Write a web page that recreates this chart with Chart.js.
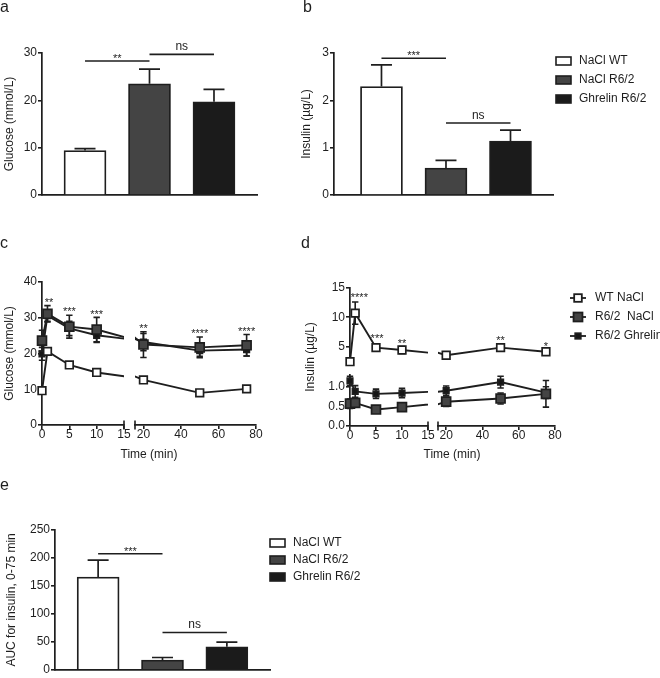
<!DOCTYPE html>
<html><head><meta charset="utf-8">
<script src="https://cdn.jsdelivr.net/npm/chart.js@4.4.1/dist/chart.umd.min.js"></script>
<style>
html,body{margin:0;padding:0;background:#fff;}
#fig{position:relative;width:660px;height:678px;overflow:hidden;background:#fff;}
#fig canvas{position:absolute;left:0;top:0;}
</style></head>
<body><div id="fig"></div>
<script>
// ---------------- data ----------------
const barGroups = ['NaCl WT', 'NaCl R6/2', 'Ghrelin R6/2'];
const glucoseMean = [9.4, 23.5, 19.7];
const glucoseSem = [0.4, 3.1, 2.6];
const insulinMean = [2.29, 0.57, 1.14];
const insulinSem = [0.46, 0.16, 0.23];
const aucMean = [166, 17.5, 41];
const aucSem = [30, 4.5, 8.5];

const timeMin = [0, 1, 5, 10, 20, 50, 75];
const seriesNames = ['WT NaCl', 'R6/2  NaCl', 'R6/2 Ghrelin'];
const glucWT = [9.6, 20.6, 16.8, 14.7, 12.6, 9.0, 10.1];
const glucWTSem = [0.4, 0.6, 0.5, 0.5, 0.5, 0.6, 0.5];
const glucR62 = [23.6, 31.1, 27.5, 26.7, 22.5, 21.7, 22.3];
const glucR62Sem = [2.9, 2.3, 3.2, 3.4, 3.6, 2.9, 3.0];
const glucGhr = [19.9, 30.6, 27.0, 25.1, 23.2, 20.8, 21.1];
const glucGhrSem = [1.8, 1.6, 2.0, 2.0, 2.4, 1.6, 1.8];
const insWT = [2.4, 10.7, 4.8, 4.4, 3.5, 4.8, 4.1];
const insWTSem = [0.2, 1.9, 0.4, 0.6, 0.2, 0.6, 0.3];
const insR62 = [0.57, 0.59, 0.42, 0.48, 0.62, 0.70, 0.82];
const insR62Sem = [0.12, 0.10, 0.06, 0.10, 0.12, 0.14, 0.34];
const insGhr = [1.15, 0.88, 0.82, 0.84, 0.90, 1.12, 0.85];
const insGhrSem = [0.12, 0.15, 0.12, 0.12, 0.12, 0.15, 0.15];

// tick labels
const glucBarTicks = [0, 10, 20, 30];
const insBarTicks = [0, 1, 2, 3];
const aucTicks = [0, 50, 100, 150, 200, 250];
const glucTimeTicks = [0, 10, 20, 30, 40];
const timeTicksEarly = [0, 5, 10, 15];
const timeTicksLate = [20, 40, 60, 80];
const insTicksHigh = [5, 10, 15];
const insTicksLow = [0, 0.5, 1.0];

// significance annotations (category index / value units)
const sigGlucose = [{from: 1, to: 2, y: 28.3, text: '**'}, {from: 2, to: 3, y: 29.7, text: 'ns'}];
const sigInsulin = [{from: 1, to: 2, y: 2.89, text: '***'}, {from: 2, to: 3, y: 1.52, text: 'ns'}];
const sigAuc = [{from: 1, to: 2, y: 207.5, text: '***'}, {from: 2, to: 3, y: 66.8, text: 'ns'}];
const starsGlucTime = [{t: 1.3, y: 35.0, text: '**'}, {t: 5, y: 32.4, text: '***'}, {t: 10, y: 31.6, text: '***'},
                       {t: 20, y: 27.7, text: '**'}, {t: 50, y: 26.2, text: '****'}, {t: 75, y: 26.8, text: '****'}];
const starsInsTime = [{t: 1.8, y: 13.8, text: '****'}, {t: 5.2, y: 6.85, text: '***'}, {t: 10, y: 6.0, text: '**'},
                      {t: 50, y: 6.4, text: '**'}, {t: 75, y: 5.4, text: '*'}];

// ---------------- styling / layout ----------------
const W = 660, H = 678;
const INK = '#1e1e1e';
const FONT = "'Liberation Sans', Arial, Helvetica, sans-serif";
const barFills = ['#ffffff', '#444444', '#1b1b1b'];
const seriesStyle = [
  {fill: '#ffffff', r: 5.4, order: 0},
  {fill: '#444444', r: 6.3, order: 1},
  {fill: '#161616', r: 3.9, order: 2}
];
Chart.defaults.font.family = FONT;
Chart.defaults.font.size = 12;
Chart.defaults.color = INK;

const fig = document.getElementById('fig');
function mk(cfg) {
  const c = document.createElement('canvas');
  c.width = W; c.height = H;
  c.style.width = W + 'px'; c.style.height = H + 'px';
  fig.appendChild(c);
  return new Chart(c.getContext('2d'), cfg);
}

function yAxis(o) {
  return {
    type: 'linear', position: 'left', min: o.min, max: o.max, display: o.display !== false,
    border: {display: true, color: INK, width: 1.7},
    grid: {display: true, drawOnChartArea: false, drawTicks: true, tickLength: 4, color: INK, lineWidth: 1.6},
    ticks: {color: INK, padding: 1, autoSkip: false, font: {size: 12}, callback: o.fmt || (v => String(v))},
    title: o.title ? {display: true, text: o.title, color: INK, font: {size: 12}, padding: 0} : {display: false},
    afterBuildTicks: s => { s.ticks = (o.ticks || []).map(v => ({value: v})); },
    afterFit: s => { s.width = o.width; }
  };
}
function xTime(o) {
  return {
    type: 'linear', position: 'bottom', min: o.min, max: o.max, display: o.display !== false, offset: false,
    border: {display: true, color: INK, width: 1.7},
    grid: {display: true, drawOnChartArea: false, drawTicks: true, tickLength: 4, color: INK, lineWidth: 1.6, offset: false},
    ticks: {color: INK, padding: 0, autoSkip: false, maxRotation: 0, font: {size: 12, lineHeight: 1}},
    afterBuildTicks: s => { s.ticks = (o.ticks || []).map(v => ({value: v})); },
    afterFit: s => { s.height = o.height; }
  };
}
function xBar(min, max) {
  return {
    type: 'linear', position: 'bottom', min, max, offset: false,
    border: {display: true, color: INK, width: 1.7},
    grid: {display: false, offset: false},
    ticks: {display: false},
    afterFit: s => { s.height = 0; }
  };
}
function baseOpts(area, yW, xH, scales, plug) {
  return {
    responsive: false, animation: false, events: [],
    layout: {padding: {left: area.l - yW, top: area.t, right: W - area.r, bottom: H - area.b - xH}},
    scales,
    plugins: Object.assign({legend: {display: false}, tooltip: {enabled: false}}, plug)
  };
}

// ---------------- plugins ----------------
const barErrPlugin = {
  id: 'barErr',
  afterDatasetsDraw(chart) {
    const {ctx, scales: {x, y}} = chart;
    const ds = chart.data.datasets[0];
    ctx.save(); ctx.strokeStyle = INK; ctx.lineWidth = 1.7;
    ds.data.forEach((p, i) => {
      const px = x.getPixelForValue(p.x);
      const top = y.getPixelForValue(p.y), end = y.getPixelForValue(p.y + ds.errors[i]);
      ctx.beginPath();
      ctx.moveTo(px, top); ctx.lineTo(px, end);
      ctx.moveTo(px - 10.5, end); ctx.lineTo(px + 10.5, end);
      ctx.stroke();
    });
    ctx.restore();
  }
};
const lineErrPlugin = {
  id: 'lineErr',
  beforeDatasetsDraw(chart, args, opts) {
    const {ctx, chartArea: a, scales: {x, y}} = chart;
    ctx.save();
    ctx.beginPath();
    ctx.rect(a.left - opts.clipL, a.top - 15, a.width + opts.clipL + opts.clipR, a.height + 30);
    ctx.clip();
    ctx.strokeStyle = INK; ctx.lineWidth = 1.6;
    chart.data.datasets.forEach(ds => {
      ds.data.forEach((p, i) => {
        const e = ds.errors[i];
        const px = x.getPixelForValue(p.x);
        const y1 = y.getPixelForValue(p.y - e), y2 = y.getPixelForValue(p.y + e);
        ctx.beginPath();
        ctx.moveTo(px, y1); ctx.lineTo(px, y2);
        ctx.moveTo(px - 3.2, y1); ctx.lineTo(px + 3.2, y1);
        ctx.moveTo(px - 3.2, y2); ctx.lineTo(px + 3.2, y2);
        ctx.stroke();
      });
    });
    ctx.restore();
  }
};
const sigPlugin = {
  id: 'sig',
  afterDatasetsDraw(chart, args, opts) {
    const {ctx, scales: {x, y}} = chart;
    ctx.save(); ctx.strokeStyle = INK; ctx.fillStyle = INK; ctx.lineWidth = 1.6;
    ctx.textAlign = 'center'; ctx.textBaseline = 'alphabetic';
    (opts.items || []).forEach(it => {
      const x1 = x.getPixelForValue(it.from), x2 = x.getPixelForValue(it.to), py = y.getPixelForValue(it.y);
      ctx.beginPath(); ctx.moveTo(x1, py); ctx.lineTo(x2, py); ctx.stroke();
      if (it.text === 'ns') { ctx.font = '12px ' + FONT; ctx.fillText(it.text, (x1 + x2) / 2, py - 4); }
      else { ctx.font = '11px ' + FONT; ctx.fillText(it.text, (x1 + x2) / 2, py + 1); }
    });
    ctx.restore();
  }
};
const starPlugin = {
  id: 'stars',
  afterDatasetsDraw(chart, args, opts) {
    const {ctx, scales: {x, y}} = chart;
    ctx.save(); ctx.fillStyle = INK; ctx.font = '11px ' + FONT;
    ctx.textAlign = 'center'; ctx.textBaseline = 'alphabetic';
    (opts.items || []).forEach(it => {
      if (it.t < x.min || it.t > x.max) return;
      ctx.fillText(it.text, x.getPixelForValue(it.t), y.getPixelForValue(it.y) + 6);
    });
    ctx.restore();
  }
};
const breakPlugin = {
  id: 'brk',
  afterDraw(chart, args, opts) {
    const {ctx, chartArea: a} = chart;
    ctx.save(); ctx.strokeStyle = INK; ctx.lineWidth = 1.6;
    (opts.edges || []).forEach(edge => {
      const px = edge === 'right' ? a.right : a.left;
      ctx.beginPath(); ctx.moveTo(px, a.bottom - 4.5); ctx.lineTo(px, a.bottom + 4.5); ctx.stroke();
    });
    ctx.restore();
  }
};
const textPlugin = {
  id: 'txt',
  afterDraw(chart, args, opts) {
    const {ctx} = chart;
    (opts.items || []).forEach(it => {
      ctx.save();
      ctx.fillStyle = INK; ctx.font = (it.size || 12) + 'px ' + FONT;
      ctx.textAlign = it.align || 'center'; ctx.textBaseline = it.baseline || 'middle';
      ctx.translate(it.x, it.y);
      if (it.rot) ctx.rotate(it.rot);
      ctx.fillText(it.text, 0, 0);
      ctx.restore();
    });
  }
};
const barLegendPlugin = {
  id: 'barLegend',
  afterDraw(chart, args, opts) {
    const {ctx} = chart;
    ctx.save(); ctx.lineWidth = 1.6; ctx.strokeStyle = INK;
    ctx.font = '12px ' + FONT; ctx.textAlign = 'left'; ctx.textBaseline = 'middle';
    barGroups.forEach((g, i) => {
      const ry = opts.rows[i];
      ctx.fillStyle = barFills[i];
      ctx.fillRect(opts.x, ry - 4, 15, 8);
      ctx.strokeRect(opts.x, ry - 4, 15, 8);
      ctx.fillStyle = INK;
      ctx.fillText(g, opts.tx, ry);
    });
    ctx.restore();
  }
};
const lineLegendPlugin = {
  id: 'lineLegend',
  afterDraw(chart, args, opts) {
    const {ctx} = chart;
    ctx.save(); ctx.lineWidth = 1.8; ctx.strokeStyle = INK;
    ctx.font = '12px ' + FONT; ctx.textAlign = 'left'; ctx.textBaseline = 'middle';
    seriesNames.forEach((n, i) => {
      const ry = opts.rows[i], st = seriesStyle[i];
      ctx.beginPath(); ctx.moveTo(opts.x1, ry); ctx.lineTo(opts.x2, ry); ctx.stroke();
      const s = st.r * Math.SQRT1_2, cx = (opts.x1 + opts.x2) / 2;
      ctx.fillStyle = st.fill;
      ctx.fillRect(cx - s, ry - s, 2 * s, 2 * s);
      ctx.strokeRect(cx - s, ry - s, 2 * s, 2 * s);
      ctx.fillStyle = INK;
      ctx.fillText(n, opts.tx, ry);
    });
    ctx.restore();
  }
};

// ---------------- builders ----------------
function barData(means, sems) {
  return {datasets: [{
    data: means.map((v, i) => ({x: i + 1, y: v})),
    errors: sems,
    backgroundColor: barFills, borderColor: INK, borderWidth: 1.8,
    barThickness: 42, borderSkipped: 'start'
  }]};
}
function timeDatasets(list, clip) {
  return list.map(s => ({
    data: timeMin.map((t, i) => ({x: t, y: s.values[i]})),
    errors: s.sem,
    borderColor: INK, borderWidth: 1.9, tension: 0, fill: false,
    pointStyle: 'rect', pointRadius: seriesStyle[s.idx].r,
    pointBackgroundColor: seriesStyle[s.idx].fill, pointBorderColor: INK, pointBorderWidth: 1.7,
    order: seriesStyle[s.idx].order, clip
  }));
}
const clipLeftSeg = {left: 10, right: 0, top: 12, bottom: 12};
const clipRightSeg = {left: 0, right: 10, top: 12, bottom: 12};
const glucSeries = [
  {idx: 0, values: glucWT, sem: glucWTSem},
  {idx: 1, values: glucR62, sem: glucR62Sem},
  {idx: 2, values: glucGhr, sem: glucGhrSem}
];
const insHighSeries = [{idx: 0, values: insWT, sem: insWTSem}];
const insLowSeries = [
  {idx: 1, values: insR62, sem: insR62Sem},
  {idx: 2, values: insGhr, sem: insGhrSem}
];

// ---------------- panel a ----------------
const areaA = {l: 42, t: 53, r: 257, b: 195};
mk({
  type: 'bar', data: barData(glucoseMean, glucoseSem),
  options: baseOpts(areaA, 39.2, 0, {
    x: xBar(0.333, 3.667),
    y: yAxis({min: 0, max: 30, ticks: glucBarTicks, width: 39.2, title: 'Glucose (mmol/L)'})
  }, {sig: {items: sigGlucose}, txt: {items: [{text: 'a', x: 0, y: 12, size: 16, align: 'left', baseline: 'alphabetic'}]}}),
  plugins: [barErrPlugin, sigPlugin, textPlugin]
});

// ---------------- panel b ----------------
const areaB = {l: 334, t: 53, r: 553, b: 195};
mk({
  type: 'bar', data: barData(insulinMean, insulinSem),
  options: baseOpts(areaB, 34.2, 0, {
    x: xBar(0.264, 3.659),
    y: yAxis({min: 0, max: 3, ticks: insBarTicks, width: 34.2, title: 'Insulin (µg/L)'})
  }, {sig: {items: sigInsulin},
      barLegend: {x: 556, tx: 579, rows: [61, 80, 99]},
      txt: {items: [{text: 'b', x: 303, y: 12, size: 16, align: 'left', baseline: 'alphabetic'}]}}),
  plugins: [barErrPlugin, sigPlugin, barLegendPlugin, textPlugin]
});

// ---------------- panel c ----------------
const areaC1 = {l: 42, t: 282, r: 124, b: 425};
const areaC2 = {l: 135, t: 282, r: 256, b: 425};
mk({
  type: 'line', data: {datasets: timeDatasets(glucSeries, clipLeftSeg)},
  options: baseOpts(areaC1, 39.2, 30, {
    x: xTime({min: 0, max: 15, ticks: timeTicksEarly, height: 30}),
    y: yAxis({min: 0, max: 40, ticks: glucTimeTicks, width: 39.2, title: 'Glucose (mmol/L)'})
  }, {lineErr: {clipL: 10, clipR: 0}, stars: {items: starsGlucTime}, brk: {edges: ['right']},
      txt: {items: [{text: 'c', x: 0, y: 248, size: 16, align: 'left', baseline: 'alphabetic'},
                    {text: 'Time (min)', x: 149, y: 455}]}}),
  plugins: [lineErrPlugin, starPlugin, breakPlugin, textPlugin]
});
mk({
  type: 'line', data: {datasets: timeDatasets(glucSeries, clipRightSeg)},
  options: baseOpts(areaC2, 0, 30, {
    x: xTime({min: 15.5, max: 80, ticks: timeTicksLate, height: 30}),
    y: yAxis({min: 0, max: 40, ticks: [], width: 0, display: false})
  }, {lineErr: {clipL: 0, clipR: 10}, stars: {items: starsGlucTime}, brk: {edges: ['left']}}),
  plugins: [lineErrPlugin, starPlugin, breakPlugin]
});

// ---------------- panel d ----------------
const areaDU1 = {l: 350, t: 288, r: 428, b: 364};
const areaDU2 = {l: 438, t: 288, r: 555, b: 364};
const areaDL1 = {l: 350, t: 375, r: 428, b: 426};
const areaDL2 = {l: 438, t: 375, r: 555, b: 426};
mk({
  type: 'line', data: {datasets: timeDatasets(insHighSeries, clipLeftSeg)},
  options: baseOpts(areaDU1, 30, 0, {
    x: xTime({min: 0, max: 15, ticks: [], height: 0, display: false}),
    y: yAxis({min: 2, max: 15, ticks: insTicksHigh, width: 30})
  }, {lineErr: {clipL: 10, clipR: 0}, stars: {items: starsInsTime},
      txt: {items: [{text: 'd', x: 301, y: 248, size: 16, align: 'left', baseline: 'alphabetic'},
                    {text: 'Insulin (µg/L)', x: 311, y: 357, rot: -Math.PI / 2}]}}),
  plugins: [lineErrPlugin, starPlugin, textPlugin]
});
mk({
  type: 'line', data: {datasets: timeDatasets(insHighSeries, clipRightSeg)},
  options: baseOpts(areaDU2, 0, 0, {
    x: xTime({min: 15.5, max: 80, ticks: [], height: 0, display: false}),
    y: yAxis({min: 2, max: 15, ticks: [], width: 0, display: false})
  }, {lineErr: {clipL: 0, clipR: 10}, stars: {items: starsInsTime},
      lineLegend: {x1: 570, x2: 586, tx: 595, rows: [298, 317, 336]}}),
  plugins: [lineErrPlugin, starPlugin, lineLegendPlugin]
});
mk({
  type: 'line', data: {datasets: timeDatasets(insLowSeries, clipLeftSeg)},
  options: baseOpts(areaDL1, 30, 30, {
    x: xTime({min: 0, max: 15, ticks: timeTicksEarly, height: 30}),
    y: yAxis({min: 0, max: 1.3, ticks: insTicksLow, width: 30, fmt: v => Number(v).toFixed(1)})
  }, {lineErr: {clipL: 10, clipR: 0}, brk: {edges: ['right']},
      txt: {items: [{text: 'Time (min)', x: 452, y: 455}]}}),
  plugins: [lineErrPlugin, breakPlugin, textPlugin]
});
mk({
  type: 'line', data: {datasets: timeDatasets(insLowSeries, clipRightSeg)},
  options: baseOpts(areaDL2, 0, 30, {
    x: xTime({min: 15.5, max: 80, ticks: timeTicksLate, height: 30}),
    y: yAxis({min: 0, max: 1.3, ticks: [], width: 0, display: false})
  }, {lineErr: {clipL: 0, clipR: 10}, brk: {edges: ['left']}}),
  plugins: [lineErrPlugin, breakPlugin]
});

// ---------------- panel e ----------------
const areaE = {l: 55, t: 530, r: 270, b: 673};
mk({
  type: 'bar', data: barData(aucMean, aucSem),
  options: baseOpts(areaE, 50.2, 0, {
    x: xBar(0.33, 3.67),
    y: yAxis({min: 0, max: 250, ticks: aucTicks, width: 50.2, title: 'AUC for insulin, 0-75 min'})
  }, {sig: {items: sigAuc},
      barLegend: {x: 270, tx: 293, rows: [543, 560, 577]},
      txt: {items: [{text: 'e', x: 0, y: 490, size: 16, align: 'left', baseline: 'alphabetic'}]}}),
  plugins: [barErrPlugin, sigPlugin, barLegendPlugin, textPlugin]
});
</script>
</body></html>
